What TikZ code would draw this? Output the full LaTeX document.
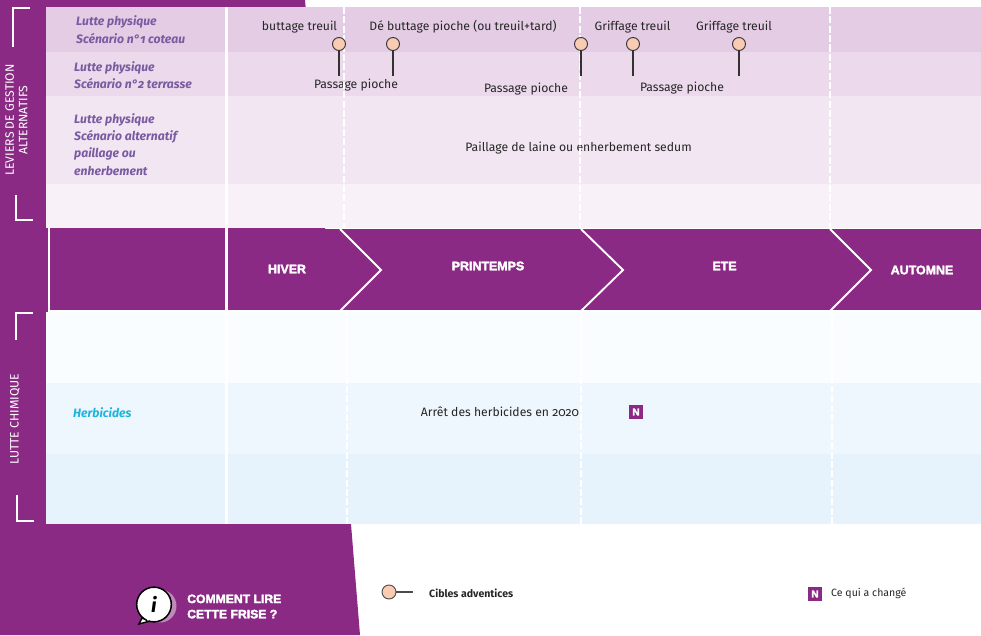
\documentclass[tikz,border=0pt]{standalone}
\usepackage{fontspec}
\usepackage{xcolor}
\setmainfont{Fira Sans}[Numbers=OldStyle]
\newfontfamily\heavyfont{Liberation Sans}[BoldFeatures={FakeBold=2.5}]
\usetikzlibrary{positioning}
\definecolor{frisepurple}{HTML}{8A2A84}
\definecolor{rowa}{HTML}{E4CCE5}
\definecolor{rowb}{HTML}{ECD9EC}
\definecolor{rowc}{HTML}{F2E6F3}
\definecolor{rowd}{HTML}{F8F1F8}
\definecolor{rowe}{HTML}{FAFDFF}
\definecolor{rowf}{HTML}{EFF7FE}
\definecolor{rowg}{HTML}{E6F3FC}
\definecolor{pinfill}{HTML}{F9CBB3}
\definecolor{rowtext}{HTML}{7A5AA0}
\definecolor{herbtext}{HTML}{1FB4DE}
\definecolor{bodytext}{HTML}{262626}

\begin{document}
\begin{tikzpicture}[x=0.3mm,y=-0.3mm]
  \tikzset{ lab/.style={inner sep=0pt,text=bodytext,font=\fontsize{10.4}{12}\selectfont},
    rowlab/.style={inner sep=0pt,anchor=west,text=rowtext,font=\fontsize{10.4}{12}\selectfont\bfseries\itshape},
    season/.style={inner sep=0pt,text=white,font=\fontsize{10.6}{12}\heavyfont\bfseries},
    side/.style={inner sep=0pt,text=white,rotate=90,align=center,font=\fontsize{10.4}{11.6}\selectfont},
    pin/.style={circle,draw=black!80,fill=pinfill,line width=0.8pt,inner sep=0pt,minimum size=0.39cm},
    pinline/.style={draw=black!80,line width=0.9pt},
    newbox/.style={fill=frisepurple,text=white,inner sep=0pt,minimum size=0.44cm,font=\fontsize{8.5}{10}\heavyfont\bfseries},
    bracket/.style={draw=white,line width=1.2pt},
    dashline/.style={draw=white,line width=1.6pt,dash pattern=on 6pt off 2pt},
  }
  \useasboundingbox (0,0) rectangle (981,635);

  % purple background
  \fill[frisepurple] (0,0) -- (305,0) -- (351,524) -- (360,635) -- (0,635) -- cycle;

  % the rows
  \fill[rowa] (46,7) rectangle (981,52);
  \fill[rowb] (46,52) rectangle (981,96);
  \fill[rowc] (46,96) rectangle (981,184);
  \fill[rowd] (46,184) rectangle (981,228);
  \fill[rowe] (46,312) rectangle (981,383);
  \fill[rowf] (46,383) rectangle (981,454);
  \fill[rowg] (46,454) rectangle (981,524);

  % the season band
  \fill[frisepurple] (50,229) rectangle (981,311);
  \draw[white,line width=1pt] (49,228) -- (49,311) -- (981,311);

  % row labels
  \node[rowlab] (r1a) at (76,22) {Lutte physique};
  \node[rowlab] (r1b) at (76,39) {Scénario n°1 coteau};
  \node[rowlab] (r2a) at (74,68) {Lutte physique};
  \node[rowlab] (r2b) at (74,84) {Scénario n°2 terrasse};
  \node[rowlab] (r3a) at (74,120) {Lutte physique};
  \node[rowlab] (r3b) at (74,137) {Scénario alternatif};
  \node[rowlab] (r3c) at (74,154) {paillage ou};
  \node[rowlab] (r3d) at (74,171) {enherbement};
  \node[rowlab,text=herbtext,font=\fontsize{10.4}{12}\selectfont\itshape\bfseries] (herb) at (73,413) {Herbicides};

  % the texts in the rows
  \node[lab] (t1) at (299.5,27) {buttage treuil};
  \node[lab] (t2) at (463,27) {Dé buttage pioche (ou treuil+tard)};
  \node[lab] (t3) at (632.5,27) {Griffage treuil};
  \node[lab] (t4) at (734,27) {Griffage treuil};
  \node[lab] (p1) at (356,85) {Passage pioche};
  \node[lab] (p2) at (526,89) {Passage pioche};
  \node[lab] (p3) at (682,88) {Passage pioche};
  \node[lab] (paille) at (578.5,148) {Paillage de laine ou enherbement sedum};
  \node[lab] (arret) at (500,412) {Arrêt des herbicides en 2020};

  % solid and dashed separators
  \draw[white,line width=2pt] (226.5,7) -- (226.5,524);
  \draw[dashline] (344,7) -- (344,229);
  \draw[dashline] (347,311) -- (347,524);
  \draw[dashline] (580,7) -- (580,229);
  \draw[dashline] (581,311) -- (581,524);
  \draw[dashline] (830,7) -- (830,229);
  \draw[dashline] (832,311) -- (832,524);

  % the chevrons
  \draw[white,line width=1.6pt] (340,229) -- (381,270) -- (340,311);
  \draw[white,line width=1.6pt] (581,229) -- (623,270) -- (581,311);
  \draw[white,line width=1.6pt] (830,229) -- (871,270) -- (830,311);

  \node[season] (hiver) at (287,269) {HIVER};
  \node[season] (printemps) at (488,266) {PRINTEMPS};
  \node[season] (ete) at (724.5,266) {ETE};
  \node[season] (automne) at (922,270) {AUTOMNE};

  % the pins
  \coordinate (e1) at (339,76);
  \coordinate (e2) at (393,76);
  \coordinate (e3) at (581,76);
  \coordinate (e4) at (633,76);
  \coordinate (e5) at (739,76);
  \node[pin] (c1) at (339,44) {};
  \node[pin] (c2) at (393,44) {};
  \node[pin] (c3) at (581,44) {};
  \node[pin] (c4) at (633,44) {};
  \node[pin] (c5) at (739,44) {};
  \draw[pinline] (c1) -- (e1);
  \draw[pinline] (c2) -- (e2);
  \draw[pinline] (c3) -- (e3);
  \draw[pinline] (c4) -- (e4);
  \draw[pinline] (c5) -- (e5);

  % left column
  \draw[bracket] (30,8) -- (13,8) -- (13,47);
  \draw[bracket] (16,195) -- (16,220) -- (33,220);
  \draw[bracket] (33,313) -- (16,313) -- (16,340);
  \draw[bracket] (17,495) -- (17,521) -- (34,521);
  \node[side] (levier) at (16.5,120) {LEVIERS DE GESTION\\ALTERNATIFS};
  \node[side] (chimie) at (15,419) {LUTTE CHIMIQUE};

  % the new mark
  \node[newbox] (n1) at (636,412) {N};

  % the legend
  \fill[frisepurple!55!white] (160,606) circle (16.5);
  \fill[white,draw=black,line width=1.2pt] (142,618) -- (139,624) -- (150,621) -- cycle;
  \node[circle,draw=black,fill=white,line width=1.3pt,inner sep=0pt,minimum size=1.04cm,
     font=\fontsize{17}{18}\selectfont\bfseries\itshape] (info) at (154,604.5) {i};
  \fill[white] (144,615) -- (148,621) -- (151,617) -- cycle;
  \node[inner sep=0pt,anchor=west,align=left,text=white,font=\fontsize{10.4}{13}\heavyfont\bfseries] (comment) at (187,606.5) {COMMENT LIRE\\CETTE FRISE ?};
  \coordinate (l1) at (413,592);
  \node[pin,minimum size=0.42cm,draw=black!70] (lc) at (389,592) {};
  \draw[pinline,draw=black!70] (lc) -- (l1);
  \node[lab,anchor=west,font=\fontsize{9}{11}\selectfont\bfseries] (cibles) at (429,593) {Cibles adventices};
  \node[newbox] (n2) at (815,594) {N};
  \node[lab,anchor=west,font=\fontsize{9}{11}\selectfont] (change) at (831,593.5) {Ce qui a changé};
\end{tikzpicture}
\end{document}
